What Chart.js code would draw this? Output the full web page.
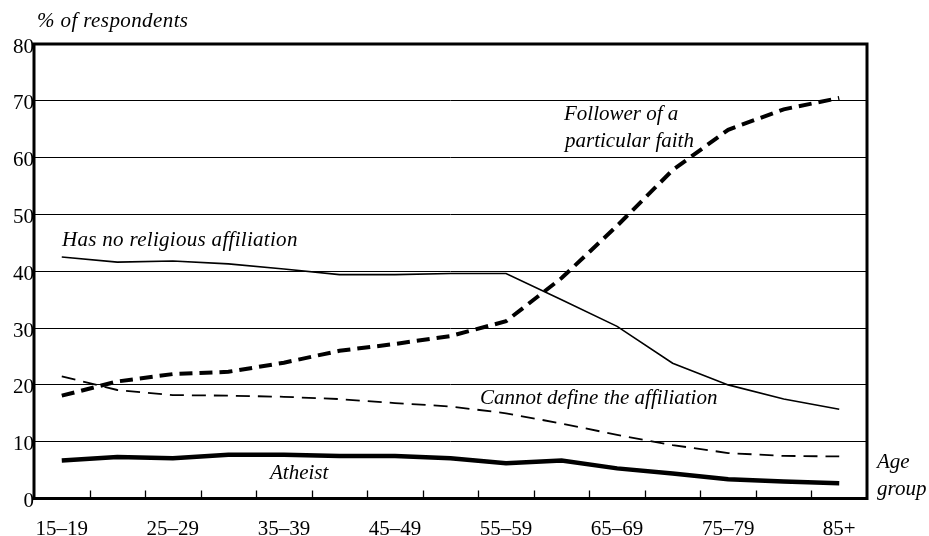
<!DOCTYPE html>
<html>
<head>
<meta charset="utf-8">
<script src="https://cdn.jsdelivr.net/npm/chart.js@4/dist/chart.umd.min.js"></script>
<style>
  html, body { margin: 0; padding: 0; background: #fff; }
  #wrap { width: 929px; height: 536px; position: relative; }
</style>
</head>
<body>
<div id="wrap"><canvas id="religionChart" width="929" height="536"></canvas></div>
<script>
const ageGroups = ['15–19', '20–24', '25–29', '30–34', '35–39', '40–44', '45–49', '50–54',
                   '55–59', '60–64', '65–69', '70–74', '75–79', '80–84', '85+'];
const shownLabels = ['15–19', '25–29', '35–39', '45–49', '55–59', '65–69', '75–79', '85+'];

const noAffiliation = [42.5, 41.6, 41.8, 41.3, 40.4, 39.4, 39.4, 39.6, 39.6, 35.0, 30.3, 23.8, 20.0, 17.5, 15.7];
const follower      = [18.1, 20.6, 21.9, 22.3, 23.9, 26.0, 27.2, 28.6, 31.2, 38.8, 48.0, 57.8, 64.9, 68.5, 70.5];
const cannotDefine  = [21.5, 19.1, 18.2, 18.1, 17.9, 17.5, 16.8, 16.2, 15.0, 13.2, 11.2, 9.4, 8.0, 7.5, 7.4];
const atheist       = [6.7, 7.3, 7.1, 7.7, 7.7, 7.5, 7.5, 7.1, 6.2, 6.7, 5.3, 4.4, 3.4, 3.0, 2.7];

const serif = '"Liberation Serif", "Times New Roman", serif';

// frame, inner tick marks and the text labels
const decorations = {
    id: 'decorations',
    afterDraw(chart) {
        const ctx = chart.ctx;
        const area = chart.chartArea;
        const x = chart.scales.x;
        const y = chart.scales.y;
        ctx.save();

        // small tick marks pointing up from the bottom axis, between categories
        ctx.strokeStyle = '#000';
        ctx.lineWidth = 1.3;
        for (let i = 1; i < ageGroups.length; i++) {
            const px = Math.round((x.getPixelForValue(i - 1) + x.getPixelForValue(i)) / 2) + 0.5;
            ctx.beginPath();
            ctx.moveTo(px, area.bottom);
            ctx.lineTo(px, area.bottom - 8);
            ctx.stroke();
        }

        // thick frame
        ctx.lineWidth = 3;
        ctx.strokeRect(area.left, area.top, area.right - area.left, area.bottom - area.top);

        // texts
        ctx.fillStyle = '#000';
        ctx.textBaseline = 'middle';
        ctx.textAlign = 'left';
        ctx.font = 'italic 21px ' + serif;
        ctx.letterSpacing = '0.4px';
        ctx.fillText('% of respondents', 37, 21);
        ctx.letterSpacing = '0px';
        ctx.fillText('Age', area.right + 10, 462);
        ctx.fillText('group', area.right + 10, 489);

        ctx.letterSpacing = '0.3px';
        ctx.fillText('Has no religious affiliation', 62, y.getPixelForValue(45.4));
        ctx.letterSpacing = '0px';
        ctx.fillText('Follower of a', 564, y.getPixelForValue(67.6));
        ctx.fillText('particular faith', 565, y.getPixelForValue(62.9));
        ctx.fillText('Cannot define the affiliation', 480, y.getPixelForValue(17.6));
        ctx.fillText('Atheist', 270, y.getPixelForValue(4.4));

        ctx.restore();
    }
};

new Chart(document.getElementById('religionChart').getContext('2d'), {
    type: 'line',
    data: {
        labels: ageGroups,
        datasets: [
            {
                label: 'Has no religious affiliation',
                data: noAffiliation,
                borderColor: '#000',
                borderWidth: 1.6,
                pointRadius: 0,
                tension: 0
            },
            {
                label: 'Follower of a particular faith',
                data: follower,
                borderColor: '#000',
                borderWidth: 4,
                borderDash: [13, 7],
                pointRadius: 0,
                tension: 0
            },
            {
                label: 'Cannot define the affiliation',
                data: cannotDefine,
                borderColor: '#000',
                borderWidth: 1.8,
                borderDash: [14, 8],
                pointRadius: 0,
                tension: 0
            },
            {
                label: 'Atheist',
                data: atheist,
                borderColor: '#000',
                borderWidth: 4.5,
                pointRadius: 0,
                tension: 0
            }
        ]
    },
    options: {
        responsive: false,
        animation: false,
        devicePixelRatio: 1,
        layout: {
            padding: { top: 44, right: 62, bottom: 0, left: 0 }
        },
        plugins: {
            legend: { display: false },
            tooltip: { enabled: false }
        },
        scales: {
            x: {
                offset: true,
                grid: { display: false, drawTicks: false },
                border: { display: false },
                ticks: {
                    autoSkip: false,
                    maxRotation: 0,
                    padding: 18,
                    color: '#000',
                    font: { family: serif, size: 21 },
                    callback: function (value) {
                        const lbl = this.getLabelForValue(value);
                        return shownLabels.includes(lbl) ? lbl : '';
                    }
                },
                afterFit: scale => { scale.height = 37.5; }
            },
            y: {
                min: 0,
                max: 80,
                grid: { color: '#000', lineWidth: 1, drawTicks: false },
                border: { display: false },
                ticks: {
                    stepSize: 10,
                    padding: 0,
                    labelOffset: 3,
                    color: '#000',
                    font: { family: serif, size: 21 }
                },
                afterFit: scale => { scale.width = 34; }
            }
        }
    },
    plugins: [decorations]
});
</script>
</body>
</html>
